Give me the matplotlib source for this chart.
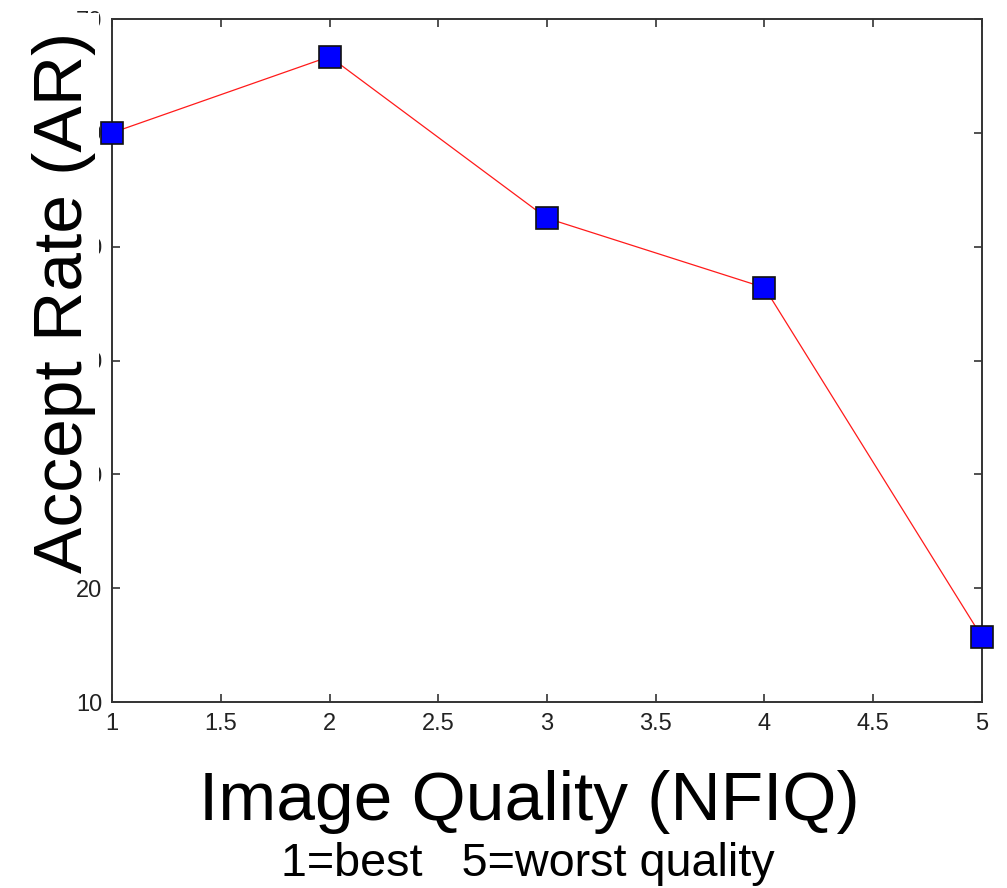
import matplotlib
matplotlib.use("Agg")
import matplotlib.pyplot as plt
from matplotlib.patches import Rectangle

# Data
quality = [1, 2, 3, 4, 5]
accept_rate = [60.0, 66.7, 52.5, 46.4, 15.7]
xticks = [1, 1.5, 2, 2.5, 3, 3.5, 4, 4.5, 5]
xtick_labels = ["1", "1.5", "2", "2.5", "3", "3.5", "4", "4.5", "5"]
yticks = [10, 20, 30, 40, 50, 60, 70]
ytick_labels = ["10", "20", "30", "40", "50", "60", "70"]

W, H = 1007, 888
fig = plt.figure(figsize=(W / 100, H / 100), dpi=100)
fig.patch.set_facecolor("white")

left, right, top, bottom = 112, 982, 19, 702
ax = fig.add_axes([left / W, 1 - bottom / H, (right - left) / W, (bottom - top) / H])

ax.plot(quality, accept_rate, color="#ff1a1a", lw=0.9, marker="s", ms=15.5,
        markerfacecolor="#0000ff", markeredgecolor="#111111", markeredgewidth=1.2,
        clip_on=False, zorder=3)

ax.set_xlim(1, 5)
ax.set_ylim(10, 70)
ax.set_xticks(xticks)
ax.set_xticklabels(xtick_labels)
ax.set_yticks(yticks)
ax.set_yticklabels(ytick_labels)

for s in ax.spines.values():
    s.set_color("#333333")
    s.set_linewidth(1.4)

ax.tick_params(direction="in", length=6, width=1.2, color="#333333",
               top=True, right=True, labelsize=17, labelcolor="#222222",
               labelfontfamily="Liberation Sans")
ax.tick_params(axis="x", pad=8)
ax.tick_params(axis="y", pad=7)

# White panel pasted over the y tick labels (as in the reference), then the big label
fig.patches.append(Rectangle((15 / W, 1 - 579 / H), (99 - 15) / W, (579 - 13) / H,
                             transform=fig.transFigure, facecolor="white",
                             edgecolor="none", zorder=5))
fig.text(82 / W, 1 - 302 / H, "Accept Rate (AR)", rotation=90, rotation_mode="anchor",
         ha="center", va="baseline", fontsize=50, family="Liberation Sans", color="black",
         zorder=10)
fig.text(529 / W, 1 - 820 / H, "Image Quality (NFIQ)", ha="center", va="baseline",
         fontsize=50, family="Liberation Sans", color="black")
fig.text(528 / W, 1 - 876 / H, "1=best   5=worst quality", ha="center", va="baseline",
         fontsize=33.7, family="Liberation Sans", color="black")

fig.savefig("out.png", dpi=100, facecolor="white")
